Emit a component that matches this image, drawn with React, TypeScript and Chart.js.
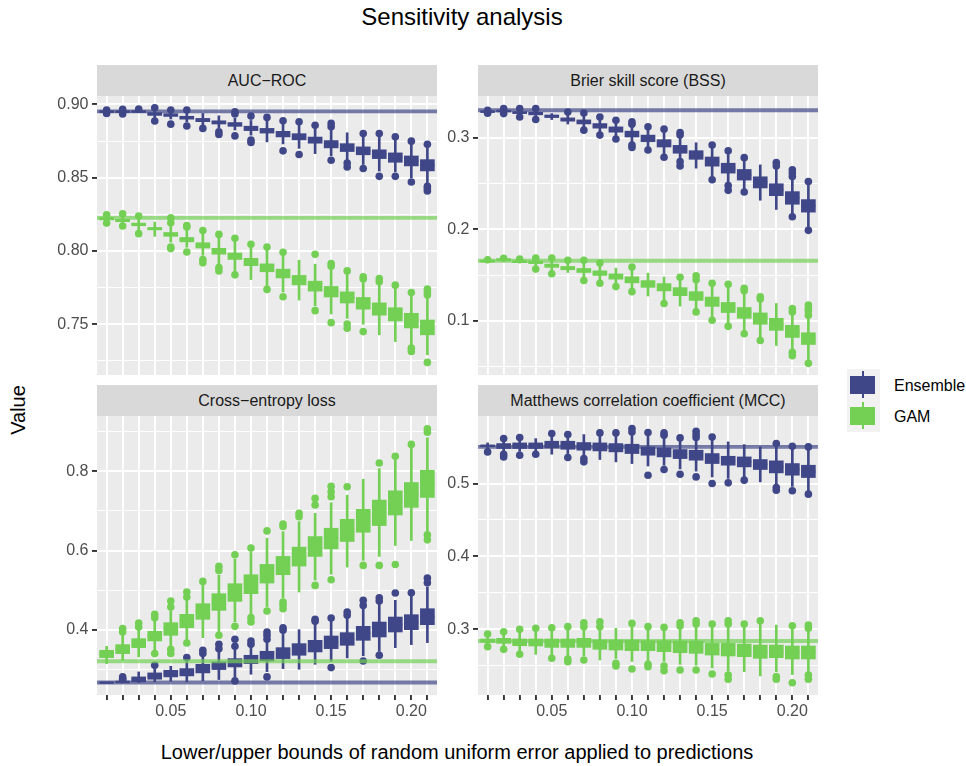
import React, { useEffect, useRef } from 'react';
import { Chart, registerables } from 'chart.js';

Chart.register(...registerables);

// Error bounds on the x axis (one box per bound) and the ones that get a tick label
const errorBounds = ['0.01', '0.02', '0.03', '0.04', '0.05', '0.06', '0.07', '0.08', '0.09', '0.10', '0.11',
  '0.12', '0.13', '0.14', '0.15', '0.16', '0.17', '0.18', '0.19', '0.20', '0.21'];
const labelledBounds = ['0.05', '0.10', '0.15', '0.20'];

const seriesNames = ['Ensemble', 'GAM'];

// Box statistics per bound: [lower whisker, q1, median, q3, upper whisker]
const aucEnsemble = [
  [0.8945, 0.8946, 0.8950, 0.8954, 0.8955], [0.8944, 0.8946, 0.8950, 0.8954, 0.8957], [0.8945, 0.8947, 0.8951, 0.8955, 0.8960],
  [0.8905, 0.8925, 0.8934, 0.8943, 0.8965], [0.8900, 0.8918, 0.8927, 0.8936, 0.8950], [0.8880, 0.8899, 0.8909, 0.8919, 0.8945],
  [0.8860, 0.8882, 0.8893, 0.8904, 0.8938], [0.8840, 0.8866, 0.8877, 0.8888, 0.8922], [0.8825, 0.8850, 0.8863, 0.8876, 0.8905],
  [0.8790, 0.8821, 0.8836, 0.8851, 0.8890], [0.8744, 0.8804, 0.8820, 0.8836, 0.8895], [0.8730, 0.8778, 0.8797, 0.8816, 0.8870],
  [0.8700, 0.8758, 0.8779, 0.8800, 0.8865], [0.8664, 0.8735, 0.8756, 0.8777, 0.8840], [0.8650, 0.8703, 0.8728, 0.8753, 0.8835],
  [0.8620, 0.8678, 0.8705, 0.8732, 0.8806], [0.8590, 0.8656, 0.8683, 0.8710, 0.8785], [0.8545, 0.8630, 0.8660, 0.8690, 0.8780],
  [0.8540, 0.8605, 0.8637, 0.8669, 0.8760], [0.8500, 0.8580, 0.8614, 0.8648, 0.8730], [0.8460, 0.8546, 0.8584, 0.8623, 0.8710],
];
const aucEnsembleOutliers = [
  [0.8961, 0.8938], [0.8966, 0.8934], [0.8968], [0.8977, 0.8886], [0.8961, 0.8865], [0.8961, 0.8852], [0.8836],
  [0.8813, 0.8795], [0.8950, 0.8934, 0.8785], [0.8920, 0.8756, 0.8740], [0.8911], [0.8888, 0.8683], [0.8881, 0.8658],
  [0.8858], [0.8870, 0.8847, 0.8619], [0.8600, 0.8573], [0.8801, 0.8562], [0.8801, 0.8509], [0.8779, 0.8509],
  [0.8749, 0.8470], [0.8728, 0.8441, 0.8425, 0.8409],
];
const aucGam = [
  [0.8205, 0.8212, 0.8220, 0.8228, 0.8238], [0.8190, 0.8200, 0.8208, 0.8216, 0.8232], [0.8140, 0.8172, 0.8181, 0.8190, 0.8220],
  [0.8100, 0.8144, 0.8152, 0.8160, 0.8197], [0.8060, 0.8100, 0.8113, 0.8126, 0.8175], [0.8025, 0.8062, 0.8077, 0.8092, 0.8140],
  [0.7970, 0.8020, 0.8038, 0.8056, 0.8120], [0.7910, 0.7978, 0.7998, 0.8018, 0.8090], [0.7860, 0.7942, 0.7964, 0.7986, 0.8060],
  [0.7805, 0.7900, 0.7925, 0.7950, 0.8025], [0.7760, 0.7858, 0.7885, 0.7912, 0.8005], [0.7720, 0.7816, 0.7846, 0.7876, 0.7970],
  [0.7665, 0.7769, 0.7801, 0.7833, 0.7937], [0.7625, 0.7726, 0.7760, 0.7794, 0.7910], [0.7570, 0.7686, 0.7722, 0.7758, 0.7880],
  [0.7540, 0.7645, 0.7683, 0.7721, 0.7850], [0.7500, 0.7603, 0.7643, 0.7683, 0.7790], [0.7428, 0.7562, 0.7604, 0.7646, 0.7775],
  [0.7382, 0.7523, 0.7568, 0.7613, 0.7750], [0.7360, 0.7475, 0.7525, 0.7575, 0.7700], [0.7292, 0.7428, 0.7478, 0.7529, 0.7680],
];
const aucGamOutliers = [
  [0.8247, 0.8190], [0.8253, 0.8170], [0.8238, 0.8118], [], [0.8226, 0.8192, 0.8027, 0.8016], [0.8174, 0.8163, 0.7993],
  [0.8140, 0.7941, 0.7919], [0.8113, 0.7887, 0.7864], [0.8086, 0.7837], [0.8045], [0.8027, 0.7738], [0.7991, 0.7688], [],
  [0.7977, 0.7593], [0.7914, 0.7896, 0.7511], [0.7864, 0.7502, 0.7473], [0.7824, 0.7808, 0.7450], [0.7812, 0.7790],
  [0.7767], [0.7717, 0.7337, 0.7314], [0.7740, 0.7720, 0.7699, 0.7240],
];

const bssEnsemble = [
  [0.3272, 0.3278, 0.3285, 0.3292, 0.3296], [0.3275, 0.3284, 0.3292, 0.3300, 0.3308], [0.3245, 0.3266, 0.3274, 0.3282, 0.3302],
  [0.3230, 0.3250, 0.3264, 0.3278, 0.3300], [0.3199, 0.3221, 0.3235, 0.3249, 0.3264], [0.3150, 0.3181, 0.3199, 0.3217, 0.3260],
  [0.3105, 0.3151, 0.3173, 0.3195, 0.3245], [0.3055, 0.3105, 0.3130, 0.3155, 0.3205], [0.3010, 0.3061, 0.3090, 0.3119, 0.3170],
  [0.2950, 0.3008, 0.3040, 0.3072, 0.3130], [0.2890, 0.2957, 0.2993, 0.3029, 0.3100], [0.2810, 0.2899, 0.2939, 0.2979, 0.3075],
  [0.2760, 0.2831, 0.2874, 0.2917, 0.3005], [0.2668, 0.2765, 0.2812, 0.2859, 0.2946], [0.2570, 0.2690, 0.2740, 0.2790, 0.2900],
  [0.2500, 0.2614, 0.2668, 0.2722, 0.2840], [0.2440, 0.2538, 0.2596, 0.2654, 0.2760], [0.2318, 0.2452, 0.2513, 0.2574, 0.2704],
  [0.2217, 0.2368, 0.2433, 0.2498, 0.2680], [0.2160, 0.2274, 0.2343, 0.2412, 0.2560], [0.2030, 0.2188, 0.2256, 0.2325, 0.2500],
];
const bssEnsembleOutliers = [
  [0.3300, 0.3268], [0.3318, 0.3264], [0.3318, 0.3227], [0.3318, 0.3199], [], [0.3282], [0.3271, 0.3083],
  [0.3227, 0.3029], [0.3191, 0.2986], [0.3173, 0.3148, 0.2921, 0.2895], [0.3119, 0.2866], [0.3094, 0.2787],
  [0.3058, 0.3029, 0.2740, 0.2693], [], [0.2921, 0.2542], [0.2859, 0.2477, 0.2426], [0.2783, 0.2408], [],
  [0.2729, 0.2693], [0.2650, 0.2614, 0.2578, 0.2137], [0.2523, 0.1989],
];
const bssGam = [
  [0.1640, 0.1645, 0.1654, 0.1663, 0.1666], [0.1655, 0.1660, 0.1669, 0.1678, 0.1682], [0.1632, 0.1638, 0.1647, 0.1656, 0.1665],
  [0.1600, 0.1626, 0.1640, 0.1654, 0.1672], [0.1550, 0.1585, 0.1603, 0.1621, 0.1665], [0.1529, 0.1559, 0.1577, 0.1595, 0.1640],
  [0.1465, 0.1529, 0.1551, 0.1573, 0.1640], [0.1440, 0.1497, 0.1522, 0.1547, 0.1610], [0.1400, 0.1456, 0.1485, 0.1514, 0.1577],
  [0.1345, 0.1416, 0.1449, 0.1482, 0.1560], [0.1272, 0.1367, 0.1404, 0.1441, 0.1522], [0.1215, 0.1328, 0.1368, 0.1408, 0.1478],
  [0.1162, 0.1276, 0.1320, 0.1364, 0.1455], [0.1125, 0.1224, 0.1272, 0.1320, 0.1425], [0.1040, 0.1159, 0.1210, 0.1261, 0.1390],
  [0.0970, 0.1092, 0.1147, 0.1202, 0.1380], [0.0890, 0.1029, 0.1088, 0.1147, 0.1310], [0.0815, 0.0964, 0.1026, 0.1088, 0.1220],
  [0.0732, 0.0897, 0.0963, 0.1029, 0.1191], [0.0680, 0.0820, 0.0886, 0.0952, 0.1080], [0.0570, 0.0743, 0.0807, 0.0871, 0.1040],
];
const bssGamOutliers = [
  [0.1668], [0.1685], [0.1676], [0.1687, 0.1566], [0.1687, 0.1515], [0.1662], [0.1662, 0.1441], [0.1632, 0.1412],
  [0.1375], [0.1588, 0.1320], [], [0.1191], [0.1478], [0.1493, 0.1449, 0.1099], [0.1412, 0.1007], [0.1401, 0.0941],
  [0.1357, 0.1331, 0.0860], [0.1265, 0.1239, 0.0787], [], [0.1136, 0.1099, 0.0658, 0.0621],
  [0.1173, 0.1136, 0.1110, 0.1063, 0.0537],
];

const ceEnsemble = [
  [0.2655, 0.2658, 0.2663, 0.2668, 0.2672], [0.2665, 0.2672, 0.2680, 0.2688, 0.2700], [0.2660, 0.2681, 0.2744, 0.2807, 0.2933],
  [0.2681, 0.2748, 0.2828, 0.2908, 0.3020], [0.2697, 0.2807, 0.2891, 0.2975, 0.3076], [0.2681, 0.2832, 0.2924, 0.3017, 0.3190],
  [0.2706, 0.2908, 0.3017, 0.3126, 0.3330], [0.2740, 0.2992, 0.3088, 0.3185, 0.3440], [0.2800, 0.3059, 0.3164, 0.3269, 0.3500],
  [0.2874, 0.3143, 0.3248, 0.3353, 0.3560], [0.2940, 0.3210, 0.3332, 0.3454, 0.3700], [0.3017, 0.3269, 0.3408, 0.3546, 0.3880],
  [0.3000, 0.3353, 0.3500, 0.3647, 0.4000], [0.3126, 0.3437, 0.3584, 0.3731, 0.4150], [0.3200, 0.3521, 0.3680, 0.3840, 0.4230],
  [0.3286, 0.3605, 0.3765, 0.3924, 0.4300], [0.3340, 0.3731, 0.3908, 0.4084, 0.4530], [0.3450, 0.3815, 0.4004, 0.4193, 0.4650],
  [0.3546, 0.3941, 0.4130, 0.4319, 0.4740], [0.3622, 0.4000, 0.4189, 0.4378, 0.4850], [0.3672, 0.4126, 0.4328, 0.4529, 0.5080],
];
const ceEnsembleOutliers = [
  [], [0.2807, 0.2760, 0.2739], [], [0.3101], [], [0.3294], [0.3479, 0.3395], [0.3630, 0.3521],
  [0.3756, 0.3580, 0.2706], [0.3714, 0.3630], [0.3941, 0.3857, 0.3756, 0.2807], [0.4050, 0.3983], [],
  [0.4261, 0.4210], [0.4294, 0.3042], [0.4445, 0.4361], [0.4740, 0.4613, 0.3210], [0.4807, 0.4723, 0.3353],
  [0.4924], [0.4933], [0.5303, 0.5185],
];
const ceGam = [
  [0.3143, 0.3294, 0.3386, 0.3479, 0.3580], [0.3227, 0.3395, 0.3508, 0.3622, 0.3880], [0.3311, 0.3546, 0.3660, 0.3773, 0.3990],
  [0.3470, 0.3714, 0.3836, 0.3958, 0.4230], [0.3580, 0.3857, 0.4016, 0.4176, 0.4480], [0.3750, 0.4050, 0.4218, 0.4387, 0.4740],
  [0.3798, 0.4261, 0.4458, 0.4655, 0.5120], [0.3950, 0.4487, 0.4698, 0.4908, 0.5380], [0.4200, 0.4714, 0.4937, 0.5160, 0.5780],
  [0.4380, 0.4908, 0.5148, 0.5387, 0.5950], [0.4580, 0.5176, 0.5412, 0.5647, 0.6310], [0.4800, 0.5387, 0.5618, 0.5849, 0.6477],
  [0.4950, 0.5605, 0.5845, 0.6084, 0.6728], [0.5250, 0.5849, 0.6100, 0.6351, 0.6937], [0.5400, 0.6042, 0.6302, 0.6561, 0.7205],
  [0.5580, 0.6226, 0.6507, 0.6787, 0.7397], [0.5750, 0.6460, 0.6749, 0.7038, 0.7799], [0.5849, 0.6628, 0.6950, 0.7272, 0.8067],
  [0.6126, 0.6895, 0.7200, 0.7506, 0.8290], [0.6251, 0.7088, 0.7400, 0.7715, 0.8580], [0.6477, 0.7339, 0.7682, 0.8025, 0.8845],
];
const ceGamOutliers = [
  [], [0.4025, 0.3941], [0.4168, 0.4067], [0.4387, 0.4303, 0.3395], [0.4723, 0.4571, 0.3504, 0.3395],
  [0.4950, 0.4824, 0.3664], [0.5218], [0.5597, 0.5496, 0.3857], [0.5891, 0.4084], [0.6059, 0.4303, 0.4193],
  [0.6494, 0.4471], [0.6669, 0.6603, 0.4697, 0.4630, 0.4529], [0.6937, 0.6854], [0.7314, 0.7146, 0.5118],
  [0.7623, 0.7481, 0.7356, 0.5260], [0.7607], [0.5622], [0.8209, 0.5622], [0.8377, 0.5647], [0.8678],
  [0.9071, 0.8987, 0.6393, 0.6268],
];

const mccEnsemble = [
  [0.5470, 0.5505, 0.5516, 0.5527, 0.5557], [0.5440, 0.5480, 0.5514, 0.5548, 0.5590], [0.5440, 0.5480, 0.5518, 0.5557, 0.5600],
  [0.5440, 0.5480, 0.5518, 0.5557, 0.5616], [0.5402, 0.5489, 0.5534, 0.5580, 0.5640], [0.5410, 0.5470, 0.5525, 0.5580, 0.5640],
  [0.5390, 0.5457, 0.5510, 0.5562, 0.5671], [0.5329, 0.5447, 0.5502, 0.5557, 0.5660], [0.5297, 0.5434, 0.5491, 0.5548, 0.5660],
  [0.5274, 0.5411, 0.5475, 0.5539, 0.5670], [0.5240, 0.5388, 0.5445, 0.5502, 0.5660], [0.5250, 0.5365, 0.5427, 0.5489, 0.5630],
  [0.5200, 0.5342, 0.5404, 0.5466, 0.5590], [0.5170, 0.5320, 0.5388, 0.5457, 0.5600], [0.5090, 0.5274, 0.5342, 0.5411, 0.5600],
  [0.5070, 0.5251, 0.5313, 0.5374, 0.5571], [0.5090, 0.5228, 0.5297, 0.5365, 0.5534], [0.5023, 0.5192, 0.5260, 0.5329, 0.5502],
  [0.4990, 0.5146, 0.5228, 0.5311, 0.5520], [0.4960, 0.5114, 0.5194, 0.5274, 0.5480], [0.4900, 0.5082, 0.5166, 0.5251, 0.5470],
];
const mccEnsembleOutliers = [
  [0.5434], [0.5616, 0.5402, 0.5365], [0.5630, 0.5388], [0.5402], [0.5685], [0.5671, 0.5356], [0.5342, 0.5297],
  [0.5694], [0.5694], [0.5753, 0.5708], [0.5699, 0.5114], [0.5694, 0.5662, 0.5192], [0.5626, 0.5128],
  [0.5717, 0.5671, 0.5630, 0.5091], [0.5639, 0.5000], [0.5009], [0.5046], [], [0.5548, 0.4945, 0.4909],
  [0.5511, 0.4900], [0.5502, 0.4854],
];
const mccGam = [
  [0.2790, 0.2822, 0.2845, 0.2868, 0.2900], [0.2770, 0.2808, 0.2842, 0.2877, 0.2930], [0.2700, 0.2776, 0.2822, 0.2868, 0.2960],
  [0.2658, 0.2772, 0.2820, 0.2868, 0.2970], [0.2650, 0.2753, 0.2810, 0.2868, 0.2980], [0.2640, 0.2753, 0.2810, 0.2868, 0.2990],
  [0.2640, 0.2753, 0.2815, 0.2877, 0.2990], [0.2580, 0.2726, 0.2790, 0.2854, 0.2990], [0.2600, 0.2717, 0.2785, 0.2854, 0.3014],
  [0.2560, 0.2708, 0.2781, 0.2854, 0.3040], [0.2570, 0.2708, 0.2776, 0.2845, 0.2990], [0.2560, 0.2694, 0.2770, 0.2845, 0.2990],
  [0.2520, 0.2680, 0.2760, 0.2840, 0.3010], [0.2510, 0.2671, 0.2756, 0.2840, 0.3030], [0.2470, 0.2648, 0.2728, 0.2808, 0.3040],
  [0.2430, 0.2635, 0.2722, 0.2808, 0.3040], [0.2420, 0.2626, 0.2712, 0.2799, 0.3030], [0.2361, 0.2603, 0.2694, 0.2785, 0.3080],
  [0.2420, 0.2612, 0.2699, 0.2785, 0.3059], [0.2380, 0.2594, 0.2683, 0.2772, 0.3020], [0.2420, 0.2594, 0.2683, 0.2772, 0.2990],
];
const mccGamOutliers = [
  [0.2936, 0.2763], [0.2968, 0.2726], [0.3000, 0.2658], [0.3014], [0.3023, 0.2603], [0.3037, 0.2594, 0.2557],
  [0.3091, 0.3037, 0.2580], [0.3105, 0.3037], [0.2534, 0.2498], [0.3082, 0.2457], [0.3037, 0.2521, 0.2489],
  [0.3027, 0.2498, 0.2434], [0.3091, 0.3046, 0.2443], [0.3119, 0.3073, 0.2443], [0.3073, 0.2388],
  [0.3119, 0.3073, 0.2374, 0.2315], [0.3073], [0.3119], [0.2352, 0.2315], [0.3050, 0.2269],
  [0.3059, 0.3014, 0.2374, 0.2315],
];

// Horizontal reference values [Ensemble, GAM] per metric
const aucReference = [0.8952, 0.8226];
const bssReference = [0.3300, 0.1658];
const ceReference = [0.2664, 0.3202];
const mccReference = [0.5502, 0.2840];

const ENSEMBLE = '#404788';
const GAM = '#73D055';
const ENSEMBLE_LINE = 'rgba(64, 71, 136, 0.7)';
const GAM_LINE = 'rgba(115, 208, 85, 0.7)';
const FONT = "'Liberation Sans', Arial, Helvetica, sans-serif";

const PLOT_W = 340;
const PLOT_H = 279;
const STRIP_H = 31;
const Y_AXIS_W = 60;
const X_AXIS_H = 32;

const panelBackground = {
  id: 'panelBackground',
  beforeDraw(chart: any) {
    const { ctx, chartArea: a } = chart;
    ctx.save();
    ctx.fillStyle = '#EBEBEB';
    ctx.fillRect(a.left, a.top, a.right - a.left, a.bottom - a.top);
    ctx.restore();
  },
};

function boxDatasets(name: string, color: string, stats: number[][], outliers: number[][], order: number) {
  return [
    {
      type: 'scatter', label: name + ' median',
      data: stats.map((s, i) => ({ x: i + 1, y: s[2] })),
      pointStyle: 'line', pointRadius: 7, pointBorderWidth: 2.4,
      pointBorderColor: color, pointBackgroundColor: color, order,
    },
    {
      type: 'bar', label: name + ' box',
      data: stats.map((s, i) => ({ x: i + 1, y: [s[1], s[3]] })),
      backgroundColor: color, borderWidth: 0, grouped: false,
      barPercentage: 1, categoryPercentage: 1, maxBarThickness: 14, order: order + 1,
    },
    {
      type: 'bar', label: name + ' whisker',
      data: stats.map((s, i) => ({ x: i + 1, y: [s[0], s[4]] })),
      backgroundColor: color, borderWidth: 0, grouped: false,
      barPercentage: 1, categoryPercentage: 1, maxBarThickness: 2, order: order + 2,
    },
    {
      type: 'scatter', label: name + ' outliers',
      data: outliers.flatMap((vals, i) => vals.map((v) => ({ x: i + 1, y: v }))),
      pointRadius: 3.8, pointBorderWidth: 0, pointBackgroundColor: color, order: order + 1,
    },
  ];
}

function referenceLine(value: number, color: string) {
  return {
    type: 'line', label: 'reference',
    data: [{ x: 0.4, y: value }, { x: 21.6, y: value }],
    borderColor: color, borderWidth: 3.9, pointRadius: 0, order: 0,
  };
}

interface PanelSpec {
  title: string;
  left: number;
  top: number;
  bottomRow: boolean;
  yMin: number;
  yMax: number;
  yMajor: number[];
  yMinor: number[];
  digits: number;
  ensemble: number[][];
  ensembleOut: number[][];
  gam: number[][];
  gamOut: number[][];
  reference: number[];
}

const panels: PanelSpec[] = [
  {
    title: 'AUC\u2212ROC', left: 97, top: 96, bottomRow: false,
    yMin: 0.7154, yMax: 0.9057, yMajor: [0.75, 0.8, 0.85, 0.9], yMinor: [0.725, 0.775, 0.825, 0.875], digits: 2,
    ensemble: aucEnsemble, ensembleOut: aucEnsembleOutliers, gam: aucGam, gamOut: aucGamOutliers, reference: aucReference,
  },
  {
    title: 'Brier skill score (BSS)', left: 478, top: 96, bottomRow: false,
    yMin: 0.041, yMax: 0.3456, yMajor: [0.1, 0.2, 0.3], yMinor: [0.05, 0.15, 0.25], digits: 1,
    ensemble: bssEnsemble, ensembleOut: bssEnsembleOutliers, gam: bssGam, gamOut: bssGamOutliers, reference: bssReference,
  },
  {
    title: 'Cross\u2212entropy loss', left: 97, top: 416, bottomRow: true,
    yMin: 0.235, yMax: 0.9395, yMajor: [0.4, 0.6, 0.8], yMinor: [0.3, 0.5, 0.7, 0.9], digits: 1,
    ensemble: ceEnsemble, ensembleOut: ceEnsembleOutliers, gam: ceGam, gamOut: ceGamOutliers, reference: ceReference,
  },
  {
    title: 'Matthews correlation coefficient (MCC)', left: 478, top: 416, bottomRow: true,
    yMin: 0.21, yMax: 0.5926, yMajor: [0.3, 0.4, 0.5], yMinor: [0.25, 0.35, 0.45, 0.55], digits: 1,
    ensemble: mccEnsemble, ensembleOut: mccEnsembleOutliers, gam: mccGam, gamOut: mccGamOutliers, reference: mccReference,
  },
];

function FacetPanel({ spec }: { spec: PanelSpec }) {
  const canvasRef = useRef<HTMLCanvasElement>(null);
  const canvasW = PLOT_W + Y_AXIS_W;
  const canvasH = PLOT_H + (spec.bottomRow ? X_AXIS_H : 0);

  useEffect(() => {
    const isMajor = (v: number) => spec.yMajor.some((m) => Math.abs(m - v) < 1e-9);
    const yTicks = [...spec.yMajor, ...spec.yMinor].sort((a, b) => a - b);
    const tickFont = { family: FONT, size: 16 };

    const chart = new Chart(canvasRef.current as HTMLCanvasElement, {
      type: 'bar',
      data: {
        datasets: [
          referenceLine(spec.reference[0], ENSEMBLE_LINE),
          referenceLine(spec.reference[1], GAM_LINE),
          ...boxDatasets(seriesNames[1], GAM, spec.gam, spec.gamOut, 1),
          ...boxDatasets(seriesNames[0], ENSEMBLE, spec.ensemble, spec.ensembleOut, 5),
        ] as any,
      },
      options: {
        animation: false,
        responsive: false,
        maintainAspectRatio: false,
        events: [],
        layout: { padding: 0, autoPadding: false },
        plugins: { legend: { display: false }, tooltip: { enabled: false }, title: { display: false } },
        scales: {
          x: {
            type: 'linear', min: 0.4, max: 21.6, offset: false,
            afterBuildTicks: (s: any) => { s.ticks = errorBounds.map((_, i) => ({ value: i + 1 })); },
            afterFit: (s: any) => {
              s.height = spec.bottomRow ? X_AXIS_H : 0;
              s.paddingLeft = 0; s.paddingRight = 0;
            },
            ticks: {
              display: spec.bottomRow, autoSkip: false, maxRotation: 0, minRotation: 0, padding: 2,
              color: '#4D4D4D', font: tickFont,
              callback: (v: any) => {
                const lbl = errorBounds[Math.round(v) - 1];
                return labelledBounds.includes(lbl) ? lbl : '';
              },
            },
            grid: {
              offset: false, color: '#FFFFFF', lineWidth: 1.9,
              drawTicks: spec.bottomRow, tickLength: 5, tickWidth: 1.9, tickColor: '#333333',
            },
            border: { display: false },
          },
          y: {
            type: 'linear', min: spec.yMin, max: spec.yMax, beginAtZero: false,
            afterBuildTicks: (s: any) => { s.ticks = yTicks.map((v) => ({ value: v })); },
            afterFit: (s: any) => { s.width = Y_AXIS_W; s.paddingTop = 0; s.paddingBottom = 0; },
            ticks: {
              autoSkip: false, padding: 3.5, color: '#4D4D4D', font: tickFont,
              callback: (v: any) => (isMajor(v) ? Number(v).toFixed(spec.digits) : ''),
            },
            grid: {
              color: '#FFFFFF',
              lineWidth: (ctx: any) => (ctx.tick && isMajor(ctx.tick.value) ? 1.9 : 0.95),
              drawTicks: true, tickLength: 5, tickWidth: 1.9,
              tickColor: (ctx: any) => (ctx.tick && isMajor(ctx.tick.value) ? '#333333' : 'rgba(0,0,0,0)'),
            },
            border: { display: false },
          },
        },
      } as any,
      plugins: [panelBackground],
    });
    return () => chart.destroy();
  }, [spec]);

  return (
    <>
      <div
        style={{
          position: 'absolute', left: spec.left, top: spec.top - STRIP_H, width: PLOT_W, height: STRIP_H,
          background: '#D9D9D9', color: '#1A1A1A', fontFamily: FONT, fontSize: 16,
          lineHeight: STRIP_H + 'px', textAlign: 'center', whiteSpace: 'nowrap',
        }}
      >
        {spec.title}
      </div>
      <canvas
        ref={canvasRef}
        width={canvasW}
        height={canvasH}
        style={{ position: 'absolute', left: spec.left - Y_AXIS_W, top: spec.top, width: canvasW, height: canvasH }}
      />
    </>
  );
}

function LegendKey({ color, top }: { color: string; top: number }) {
  return (
    <>
      <div style={{ position: 'absolute', left: 862, top: top + 2, width: 2, height: 27, background: color }} />
      <div style={{ position: 'absolute', left: 850, top: top + 7, width: 25, height: 18, background: color }} />
    </>
  );
}

export default function App() {
  return (
    <div
      style={{
        position: 'absolute', left: 0, top: 0, width: 966, height: 766, background: '#FFFFFF',
        overflow: 'hidden', fontFamily: FONT,
      }}
    >
      <div
        style={{
          position: 'absolute', left: 262, top: 5, width: 400, textAlign: 'center',
          fontSize: 24, lineHeight: '24px', color: '#000000',
        }}
      >
        Sensitivity analysis
      </div>

      {panels.map((p) => (
        <FacetPanel key={p.title} spec={p} />
      ))}

      <div
        style={{
          position: 'absolute', left: 157, top: 742, width: 600, textAlign: 'center',
          fontSize: 20, lineHeight: '20px', color: '#000000', whiteSpace: 'nowrap',
        }}
      >
        Lower/upper bounds of random uniform error applied to predictions
      </div>
      <div
        style={{
          position: 'absolute', left: 18 - 50, top: 410 - 10, width: 100, height: 20, textAlign: 'center',
          fontSize: 20, lineHeight: '20px', color: '#000000', transform: 'rotate(-90deg)',
        }}
      >
        Value
      </div>

      <div style={{ position: 'absolute', left: 847, top: 369, width: 33, height: 63, background: '#F2F2F2' }} />
      <LegendKey color={ENSEMBLE} top={369} />
      <LegendKey color={GAM} top={400} />
      <div style={{ position: 'absolute', left: 894, top: 378, fontSize: 16, lineHeight: '16px', color: '#000000' }}>
        {seriesNames[0]}
      </div>
      <div style={{ position: 'absolute', left: 894, top: 409, fontSize: 16, lineHeight: '16px', color: '#000000' }}>
        {seriesNames[1]}
      </div>
    </div>
  );
}
